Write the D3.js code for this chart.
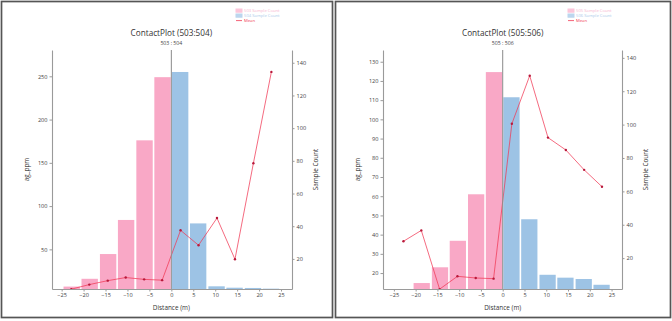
<!DOCTYPE html>
<html>
<head>
<meta charset="utf-8">
<script src="https://cdn.jsdelivr.net/npm/d3@7"></script>
<style>
  html, body { margin: 0; padding: 0; background: #ffffff; }
  svg { display: block; font-family: "Open Sans", "DejaVu Sans", sans-serif; }
</style>
</head>
<body>
<svg id="chart" width="672" height="321"></svg>
<script>
// ---------- DATA ----------
const binCenters = [-22.8, -18.7, -14.5, -10.4, -6.2, -2.1, 2.1, 6.2, 10.4, 14.5, 18.7, 22.8];
const xTicks = [-25, -20, -15, -10, -5, 0, 5, 10, 15, 20, 25];

// Panel 1: ContactPlot (503:504)
const p1Title = "ContactPlot (503:504)";
const p1Sub = "503 : 504";
const p1FromLabel = "503 Sample Count";
const p1ToLabel = "504 Sample Count";
const p1FromBars = [7, 16, 44.6, 84, 176, 249];
const p1ToBars = [255, 80, 7.3, 5.7, 5.4, 4.6];
const p1FromMean = [1.5, 4.3, 6.7, 8.6, 7.5, 7.0];
const p1ToMean = [37.5, 28.4, 45, 19.8, 78.5, 134.4];
const p1LeftTicks = [50, 100, 150, 200, 250];
const p1LeftDomain = [4.2, 280.4];
const p1RightTicks = [20, 40, 60, 80, 100, 120, 140];
const p1RightDomain = [1.6, 147.8];

// Panel 2: ContactPlot (505:506)
const p2Title = "ContactPlot (505:506)";
const p2Sub = "505 : 506";
const p2FromLabel = "505 Sample Count";
const p2ToLabel = "506 Sample Count";
const p2FromBars = [0, 14.8, 23, 36.8, 61, 124.6];
const p2ToBars = [111.5, 48, 19.1, 17.6, 16.9, 13.9];
const p2FromMean = [30.1, 36.6, 1.4, 9.1, 8.1, 7.7];
const p2ToMean = [100.5, 129.3, 92.2, 84.8, 72.9, 62.8];
const p2LeftTicks = [20, 30, 40, 50, 60, 70, 80, 90, 100, 110, 120, 130];
const p2LeftDomain = [11.7, 136.1];
const p2RightTicks = [20, 40, 60, 80, 100, 120, 140];
const p2RightDomain = [1.5, 144.7];

// ---------- STYLE ----------
const pink = "#f9a8c6";
const blue = "#9dc3e5";
const lineRed = "#f03a55";
const dotRed = "#b8183a";
const axisGrey = "#9a9a9a";
const textGrey = "#444444";

const svg = d3.select("#chart");

function drawPanel(cfg) {
  const g = svg.append("g").attr("transform", `translate(${cfg.ox},0)`);

  // frame
  g.append("rect")
    .attr("x", 1.5).attr("y", 1.5)
    .attr("width", cfg.fw).attr("height", 316)
    .attr("fill", "#fff").attr("stroke", "#555").attr("stroke-width", 1.7);

  const L = cfg.left, R = cfg.right, T = 50, B = 289;

  const x = d3.scaleLinear().domain(cfg.xDomain).range([L, R]);
  const yL = d3.scaleLinear().domain(cfg.leftDomain).range([B, T]);
  const yR = d3.scaleLinear().domain(cfg.rightDomain).range([B, T]);

  const binW = 4.15;
  const bw = binW * 0.9;

  const clipId = "clip" + cfg.ox;
  g.append("clipPath").attr("id", clipId)
    .append("rect").attr("x", L).attr("y", T).attr("width", R - L).attr("height", B - T);

  const plot = g.append("g").attr("clip-path", `url(#${clipId})`);

  const fromCenters = binCenters.slice(0, 6);
  const toCenters = binCenters.slice(6);

  // from (pink) bars
  plot.selectAll(".fb").data(cfg.fromBars.map((v, i) => ({ c: fromCenters[i], v })))
    .join("rect")
    .attr("x", d => x(d.c - bw / 2) + 0.4)
    .attr("width", d => x(d.c + bw / 2) - x(d.c - bw / 2))
    .attr("y", d => yL(d.v))
    .attr("height", d => Math.max(0, B - yL(d.v)))
    .attr("fill", pink);

  // to (blue) bars
  plot.selectAll(".tb").data(cfg.toBars.map((v, i) => ({ c: toCenters[i], v })))
    .join("rect")
    .attr("x", d => x(d.c - bw / 2) - 0.4)
    .attr("width", d => x(d.c + bw / 2) - x(d.c - bw / 2))
    .attr("y", d => yL(d.v))
    .attr("height", d => Math.max(0, B - yL(d.v)))
    .attr("fill", blue);

  // zero line
  g.append("line")
    .attr("x1", x(0)).attr("x2", x(0))
    .attr("y1", T).attr("y2", B)
    .attr("stroke", "#8a8a8a").attr("stroke-width", 1);

  // mean line
  const meanData = cfg.fromMean.concat(cfg.toMean).map((v, i) => ({ c: binCenters[i], v }));
  const line = d3.line().x(d => x(d.c)).y(d => yR(d.v));
  plot.append("path").datum(meanData)
    .attr("d", line).attr("fill", "none")
    .attr("stroke", lineRed).attr("stroke-opacity", 0.75).attr("stroke-width", 1);
  plot.selectAll(".md").data(meanData).join("circle")
    .attr("cx", d => x(d.c)).attr("cy", d => yR(d.v)).attr("r", 1.2)
    .attr("fill", dotRed);

  // axes
  const axisStyle = sel => {
    sel.select(".domain").attr("stroke", axisGrey).attr("stroke-width", 1.1);
    sel.selectAll(".tick line").attr("stroke", axisGrey);
    sel.selectAll(".tick text").attr("fill", textGrey).attr("font-size", "5.6px")
      .attr("font-family", "'Open Sans', sans-serif");
  };

  g.append("g").attr("transform", `translate(0,${B})`)
    .call(d3.axisBottom(x).tickValues(xTicks).tickSize(2.5).tickPadding(2).tickSizeOuter(0))
    .call(axisStyle);

  g.append("g").attr("transform", `translate(${L},0)`)
    .call(d3.axisLeft(yL).tickValues(cfg.leftTicks).tickSize(2.5).tickPadding(2).tickSizeOuter(0))
    .call(axisStyle);

  g.append("g").attr("transform", `translate(${R},0)`)
    .call(d3.axisRight(yR).tickValues(cfg.rightTicks).tickSize(2.5).tickPadding(2).tickSizeOuter(0))
    .call(axisStyle);

  // titles
  const cx = x(0);
  g.append("text").attr("x", cx).attr("y", 36).attr("text-anchor", "middle")
    .attr("font-size", "8.2px").attr("fill", "#333").text(cfg.title);
  g.append("text").attr("x", cx).attr("y", 45).attr("text-anchor", "middle")
    .attr("font-size", "5.2px").attr("fill", "#444").text(cfg.sub);

  // axis labels
  g.append("text").attr("x", cx).attr("y", 310)
    .attr("text-anchor", "middle").attr("font-size", "6.4px").attr("fill", "#333")
    .text("Distance (m)");
  g.append("text")
    .attr("transform", `translate(${L - 23},${(T + B) / 2}) rotate(-90)`)
    .attr("text-anchor", "middle").attr("font-size", "6.4px").attr("fill", "#333")
    .text("ag_ppm");
  g.append("text")
    .attr("transform", `translate(${R + 26},${(T + B) / 2}) rotate(-90)`)
    .attr("text-anchor", "middle").attr("font-size", "6.4px").attr("fill", "#333")
    .text("Sample Count");

  // legend
  const lg = g.append("g").attr("transform", `translate(${cfg.legX},9)`);
  const items = [
    { t: cfg.fromLabel, c: "#fbc6da", kind: "patch", tc: "#f8b6cf" },
    { t: cfg.toLabel, c: "#bcd6ee", kind: "patch", tc: "#aecbea" },
    { t: "Mean", c: lineRed, kind: "line", tc: "#f03a55" }
  ];
  items.forEach((it, i) => {
    const yy = i * 5;
    if (it.kind === "patch") {
      lg.append("rect").attr("x", 0).attr("y", yy).attr("width", 6).attr("height", 3.2)
        .attr("fill", it.c).attr("stroke", it.c);
    } else {
      lg.append("line").attr("x1", 0).attr("x2", 6).attr("y1", yy + 1.6).attr("y2", yy + 1.6)
        .attr("stroke", it.c).attr("stroke-width", 0.8);
    }
    lg.append("text").attr("x", 8).attr("y", yy + 3.2).attr("font-size", "4.2px")
      .attr("fill", it.tc).text(it.t);
  });
}

drawPanel({
  ox: 0, fw: 331, left: 52, right: 292,
  xDomain: [-27.2, 27.5],
  leftDomain: p1LeftDomain, rightDomain: p1RightDomain,
  leftTicks: p1LeftTicks, rightTicks: p1RightTicks,
  fromBars: p1FromBars, toBars: p1ToBars,
  fromMean: p1FromMean, toMean: p1ToMean,
  title: p1Title, sub: p1Sub, fromLabel: p1FromLabel, toLabel: p1ToLabel,
  legX: 236
});

drawPanel({
  ox: 334, fw: 335, left: 383 - 334, right: 622 - 334,
  xDomain: [-27.5, 27.4],
  leftDomain: p2LeftDomain, rightDomain: p2RightDomain,
  leftTicks: p2LeftTicks, rightTicks: p2RightTicks,
  fromBars: p2FromBars, toBars: p2ToBars,
  fromMean: p2FromMean, toMean: p2ToMean,
  title: p2Title, sub: p2Sub, fromLabel: p2FromLabel, toLabel: p2ToLabel,
  legX: 568 - 334
});
</script>
</body>
</html>
